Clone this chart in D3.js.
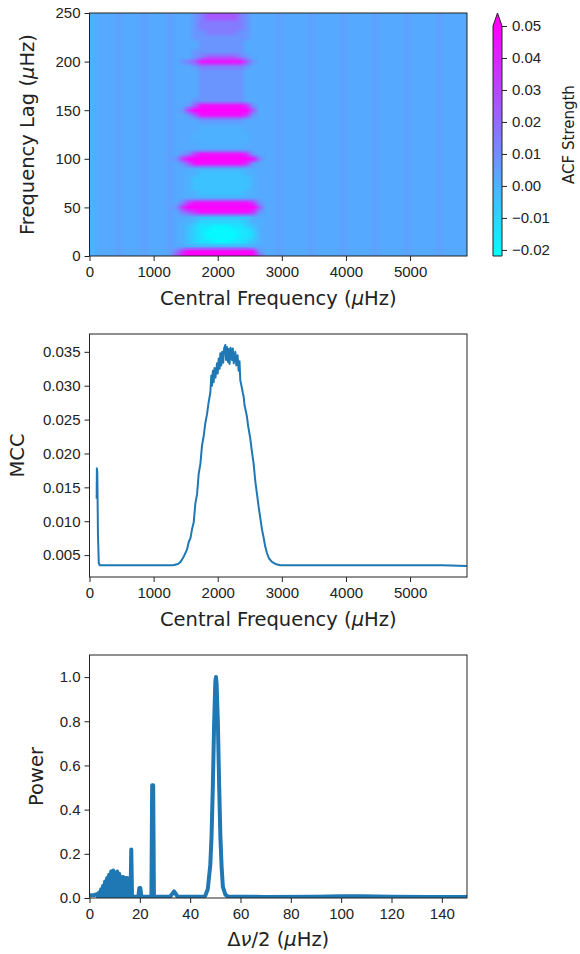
<!DOCTYPE html>
<html>
<head>
<meta charset="utf-8">
<script src="https://cdn.jsdelivr.net/npm/d3@7"></script>
<style>
  html, body { margin: 0; padding: 0; background: #fff; }
  svg { display: block; font-family: "DejaVu Sans", sans-serif; }
  .tick text { font-size: 15px; fill: #222; }
  .tick line { stroke: #222; stroke-width: 1; }
  .domain { display: none; }
  .frame { fill: none; stroke: #222; stroke-width: 1; }
  .label { font-size: 19.5px; fill: #222; }
</style>
</head>
<body>
<svg id="fig" width="580" height="954"></svg>
<script>
// ---- data ----

// ACF map: colour limits and levels (one char per sample)
const colorLimits = [-0.0219, 0.05];
const cbTicks = [-0.02, -0.01, 0.00, 0.01, 0.02, 0.03, 0.04, 0.05];
const acfLevelKeys = "0123456789ABC";
const acfLevelValues = [-0.020, -0.015, -0.010, -0.005, 0.000, 0.002, 0.008, 0.015, 0.025, 0.035, 0.045, 0.060, 0.005];
const freqStep = 100;   // uHz per column (centres 50, 150, ...)
const lagStep = 5;      // uHz per row (0, 5, ... 250)
// background strength of each column
const columnBase = ["4555C555C5", "55C5555555", "55555C555C", "5555C5555C", "5555C5555C", "5555C5555"].join("");
// rows of the oscillation window, columns 1350..2750 uHz, lag 0 first
const acfWindowStart = 13;
const acfRows = [
  "8ABBBBBBBBBBB85", //   0
  "79BBBBBBBBBBA65", //   5
  "554444444444455", //  10
  "543211000112345", //  15
  "543210000011245", //  20
  "543210000011245", //  25
  "543211000112345", //  30
  "544322222223445", //  35
  "554433333333455", //  40
  "5789AAAAAAAA965", //  45
  "69BBBBBBBBBBB85", //  50
  "579AAAAAAAAA965", //  55
  "555444444444555", //  60
  "554433333334455", //  65
  "554333333333455", //  70
  "554333333333455", //  75
  "554333333333455", //  80
  "554433333334455", //  85
  "555444444444555", //  90
  "568AAAAAAAA9655", //  95
  "69BBBBBBBBBBA75", // 100
  "5679AAAAAAA9655", // 105
  "555555555555555", // 110
  "555544444445555", // 115
  "555444444444555", // 120
  "555444444444555", // 125
  "555544444445555", // 130
  "555555555555555", // 135
  "555566666665555", // 140
  "5568AAAAAAA9655", // 145
  "569BBBBBBBBB855", // 150
  "5568AAAAAAA9655", // 155
  "555666666665555", // 160
  "555566666665555", // 165
  "555566666665555", // 170
  "555566666665555", // 175
  "555566666665555", // 180
  "555566666665555", // 185
  "555566666665555", // 190
  "555677777776555", // 195
  "5678AAAAAAA8655", // 200
  "555678888876555", // 205
  "555666666665555", // 210
  "555566666665555", // 215
  "555566666665555", // 220
  "555666666666555", // 225
  "555667777766555", // 230
  "555677777776555", // 235
  "555677777776555", // 240
  "555678888876555", // 245
  "555678888876555"  // 250
];

const freqTicks = [0, 1000, 2000, 3000, 4000, 5000];
const lagTicks = [0, 50, 100, 150, 200, 250];
const mccTicks = [0.005, 0.010, 0.015, 0.020, 0.025, 0.030, 0.035];
const sepTicks = [0, 20, 40, 60, 80, 100, 120, 140];
const powerTicks = [0, 0.2, 0.4, 0.6, 0.8, 1.0];

// MCC vs central frequency [uHz, MCC]
const mccCurve = [
  [112, 0.0133], [115, 0.0178], [122, 0.0172], [132, 0.0080], [145, 0.0038], [160, 0.0035],
  [300, 0.0035], [500, 0.0035], [700, 0.0035], [900, 0.0035], [1100, 0.0035], [1300, 0.0035],
  [1380, 0.0037], [1420, 0.0040], [1460, 0.0046], [1495, 0.0053], [1520, 0.0058], [1547, 0.0069],
  [1575, 0.0075], [1599, 0.0088], [1625, 0.0098], [1651, 0.0126], [1678, 0.0140], [1703, 0.0170],
  [1730, 0.0185], [1755, 0.0212], [1780, 0.0225], [1807, 0.0245], [1833, 0.0258], [1859, 0.0276],
  [1885, 0.0290], [1900, 0.0315], [1911, 0.0300], [1925, 0.0322], [1937, 0.0305], [1950, 0.0326],
  [1965, 0.0312], [1989, 0.0333], [2000, 0.0318], [2015, 0.0340], [2030, 0.0325], [2040, 0.0348],
  [2055, 0.0330], [2070, 0.0350], [2085, 0.0334], [2100, 0.0355], [2118, 0.0360], [2130, 0.0338],
  [2145, 0.0357], [2160, 0.0335], [2170, 0.0354], [2185, 0.0332], [2200, 0.0356], [2222, 0.0338],
  [2235, 0.0355], [2250, 0.0333], [2274, 0.0350], [2290, 0.0330], [2310, 0.0345], [2326, 0.0322],
  [2340, 0.0336], [2352, 0.0308], [2370, 0.0300], [2390, 0.0290], [2404, 0.0284], [2420, 0.0270],
  [2440, 0.0262], [2456, 0.0254], [2475, 0.0240], [2490, 0.0232], [2508, 0.0222], [2530, 0.0205],
  [2560, 0.0185], [2585, 0.0160], [2611, 0.0141], [2640, 0.0120], [2664, 0.0105], [2690, 0.0088],
  [2716, 0.0076], [2740, 0.0063], [2768, 0.0053], [2800, 0.0045], [2846, 0.0040], [2900, 0.0037],
  [2975, 0.0035], [3100, 0.0035], [3500, 0.0035], [4000, 0.0035], [4500, 0.0035], [5000, 0.0035],
  [5500, 0.0035], [5885, 0.0034]
];

// Power vs half large separation [uHz, power]
const powerCurve = [
  [0, 0.012], [1, 0.012], [2, 0.014], [3.0, 0.018], [3.4, 0.005], [3.8, 0.025], [4.2, 0.005],
  [4.6, 0.040], [5.0, 0.006], [5.4, 0.055], [5.8, 0.006], [6.2, 0.075], [6.6, 0.006], [7.0, 0.090],
  [7.4, 0.006], [7.8, 0.105], [8.2, 0.006], [8.6, 0.120], [9.0, 0.006], [9.4, 0.125], [9.8, 0.006],
  [10.2, 0.110], [10.6, 0.006], [11.0, 0.120], [11.4, 0.006], [11.8, 0.110], [12.2, 0.006],
  [12.6, 0.095], [13.0, 0.006], [13.4, 0.095], [13.8, 0.006], [14.2, 0.090], [14.6, 0.006],
  [15.0, 0.090], [15.4, 0.006], [16.3, 0.006], [16.6, 0.220], [16.9, 0.006], [19.4, 0.006],
  [19.8, 0.045], [20.2, 0.045], [20.6, 0.006], [24.6, 0.006], [24.9, 0.510], [25.3, 0.510],
  [25.6, 0.006], [32.0, 0.006], [33.0, 0.020], [33.6, 0.030], [34.2, 0.020], [35.0, 0.006],
  [45.0, 0.006], [46.0, 0.010], [47.0, 0.040], [48.0, 0.150], [48.5, 0.280], [49.0, 0.500],
  [49.5, 0.780], [50.0, 0.980], [50.25, 1.000], [50.5, 0.970], [51.0, 0.800], [51.5, 0.520],
  [52.0, 0.280], [52.5, 0.140], [53.0, 0.050], [54.0, 0.015], [55.0, 0.006], [70, 0.005],
  [90, 0.006], [100, 0.008], [108, 0.008], [120, 0.006], [135, 0.005], [150, 0.005]
];

// ---- layout ----
const L = 89.5, R = 467;
const T1 = 13, B1 = 256, T2 = 334, B2 = 577, T3 = 655, B3 = 898;
const CB = {x: 493, w: 9, top: 26, bottom: 256, tip: 13};

const svg = d3.select("#fig");

const xFreq = d3.scaleLinear().domain([0, 5888]).range([L, R]);
const yLag = d3.scaleLinear().domain([0, 250]).range([B1, T1]);
const yMcc = d3.scaleLinear().domain([0.00177, 0.03763]).range([B2, T2]);
const xSep = d3.scaleLinear().domain([0, 150]).range([L, R]);
const yPow = d3.scaleLinear().domain([0, 1.1]).range([B3, T3]);
const color = d3.scaleLinear().domain(colorLimits).range(["#00ffff", "#ff00ff"]).clamp(true);
const yCb = d3.scaleLinear().domain(colorLimits).range([CB.bottom, CB.top]);

const mathText = (sel, parts) => parts.forEach(([t, it]) =>
  sel.append("tspan").attr("font-style", it ? "italic" : null).text(t));

const xLabel = (y, parts) => mathText(
  svg.append("text").attr("class", "label").attr("x", (L + R) / 2).attr("y", y)
    .attr("text-anchor", "middle"), parts);

const yLabel = (x, yc, parts, size) => mathText(
  svg.append("text").attr("class", "label")
    .attr("transform", `translate(${x},${yc}) rotate(-90)`)
    .attr("text-anchor", "middle")
    .style("font-size", size ? size + "px" : null), parts);

const bottomAxis = (scale, ticks, y, fmt) => svg.append("g")
  .attr("transform", `translate(0,${y})`)
  .call(d3.axisBottom(scale).tickValues(ticks).tickSize(5).tickPadding(5).tickFormat(fmt));

const leftAxis = (scale, ticks, fmt) => svg.append("g")
  .attr("transform", `translate(${L},0)`)
  .call(d3.axisLeft(scale).tickValues(ticks).tickSize(5).tickPadding(4).tickFormat(fmt));

const frame = (t, b) => svg.append("rect").attr("class", "frame")
  .attr("x", L).attr("y", t).attr("width", R - L).attr("height", b - t);

// ---- panel 1: ACF map ----
const nCols = columnBase.length, nRows = acfRows.length;
const cv = document.createElement("canvas");
cv.width = nCols; cv.height = nRows;
const ctx = cv.getContext("2d");
const img = ctx.createImageData(nCols, nRows);
acfRows.forEach((row, j) => {
  const r = nRows - 1 - j;
  for (let i = 0; i < nCols; i++) {
    const inWin = i >= acfWindowStart && i < acfWindowStart + row.length;
    const key = inWin ? row[i - acfWindowStart] : (columnBase[i] || "5");
    const c = d3.rgb(color(acfLevelValues[acfLevelKeys.indexOf(key)]));
    const k = 4 * (r * nCols + i);
    img.data[k] = c.r; img.data[k + 1] = c.g; img.data[k + 2] = c.b; img.data[k + 3] = 255;
  }
});
ctx.putImageData(img, 0, 0);

svg.append("clipPath").attr("id", "clip1")
  .append("rect").attr("x", L).attr("y", T1).attr("width", R - L).attr("height", B1 - T1);
svg.append("image")
  .attr("clip-path", "url(#clip1)")
  .attr("preserveAspectRatio", "none")
  .attr("x", xFreq(0)).attr("width", xFreq(nCols * freqStep) - xFreq(0))
  .attr("y", yLag((nRows - 0.5) * lagStep))
  .attr("height", yLag(-0.5 * lagStep) - yLag((nRows - 0.5) * lagStep))
  .attr("href", cv.toDataURL());
frame(T1, B1);
bottomAxis(xFreq, freqTicks, B1, d3.format("d"));
leftAxis(yLag, lagTicks, d3.format("d"));
xLabel(305, [["Central Frequency (", 0], ["μ", 1], ["Hz)", 0]]);
yLabel(34, (T1 + B1) / 2, [["Frequency Lag (", 0], ["μ", 1], ["Hz)", 0]]);

// colour bar
const grad = svg.append("defs").append("linearGradient").attr("id", "cool")
  .attr("x1", 0).attr("y1", 1).attr("x2", 0).attr("y2", 0);
grad.append("stop").attr("offset", 0).attr("stop-color", color(colorLimits[0]));
grad.append("stop").attr("offset", 1).attr("stop-color", color(colorLimits[1]));
svg.append("rect").attr("x", CB.x).attr("y", CB.top).attr("width", CB.w)
  .attr("height", CB.bottom - CB.top).attr("fill", "url(#cool)");
svg.append("path")
  .attr("d", `M${CB.x},${CB.top}L${CB.x + CB.w / 2},${CB.tip}L${CB.x + CB.w},${CB.top}Z`)
  .attr("fill", color(colorLimits[1]));
svg.append("path").attr("class", "frame")
  .attr("d", `M${CB.x},${CB.bottom}L${CB.x},${CB.top}L${CB.x + CB.w / 2},${CB.tip}L${CB.x + CB.w},${CB.top}L${CB.x + CB.w},${CB.bottom}Z`);
svg.append("g").attr("transform", `translate(${CB.x + CB.w},0)`)
  .call(d3.axisRight(yCb).tickValues(cbTicks).tickSize(5).tickPadding(5).tickFormat(d3.format(".2f")));
yLabel(574, (T1 + B1) / 2, [["ACF Strength", 0]], 15);

// ---- panel 2: MCC ----
svg.append("path")
  .datum(mccCurve)
  .attr("fill", "none").attr("stroke", "#1f77b4").attr("stroke-width", 2)
  .attr("stroke-linejoin", "round")
  .attr("d", d3.line().x(d => xFreq(d[0])).y(d => yMcc(d[1])));
frame(T2, B2);
bottomAxis(xFreq, freqTicks, B2, d3.format("d"));
leftAxis(yMcc, mccTicks, d3.format(".3f"));
xLabel(626, [["Central Frequency (", 0], ["μ", 1], ["Hz)", 0]]);
yLabel(24, (T2 + B2) / 2, [["MCC", 0]]);

// ---- panel 3: power ----
svg.append("clipPath").attr("id", "clip3")
  .append("rect").attr("x", L).attr("y", T3).attr("width", R - L).attr("height", B3 - T3);
svg.append("path")
  .datum(powerCurve)
  .attr("clip-path", "url(#clip3)")
  .attr("fill", "none").attr("stroke", "#1f77b4").attr("stroke-width", 4)
  .attr("stroke-linejoin", "round").attr("stroke-linecap", "round")
  .attr("d", d3.line().x(d => xSep(d[0])).y(d => yPow(d[1])));
frame(T3, B3);
bottomAxis(xSep, sepTicks, B3, d3.format("d"));
leftAxis(yPow, powerTicks, d3.format(".1f"));
xLabel(946, [["Δ", 0], ["ν", 1], ["/2 (", 0], ["μ", 1], ["Hz)", 0]]);
yLabel(43, (T3 + B3) / 2, [["Power", 0]]);
</script>
</body>
</html>
